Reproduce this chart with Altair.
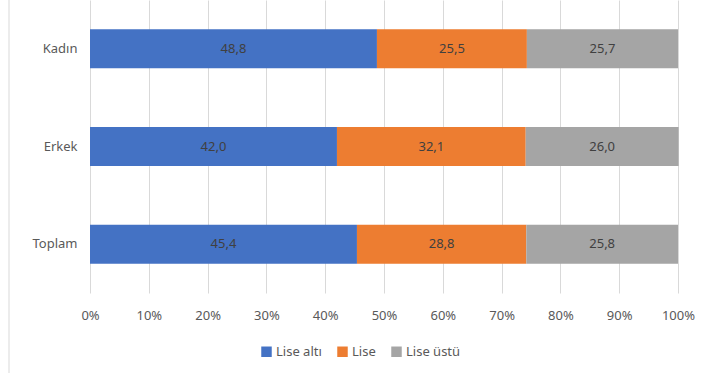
import altair as alt
import pandas as pd

categories = ["Kadın", "Erkek", "Toplam"]
series = ["Lise altı", "Lise", "Lise üstü"]
lise_alti = [48.8, 42.0, 45.4]
lise = [25.5, 32.1, 28.8]
lise_ustu = [25.7, 26.0, 25.8]
colors = ["#4472C4", "#ED7D31", "#A5A5A5"]
x_ticks = [0, 10, 20, 30, 40, 50, 60, 70, 80, 90, 100]

rows = []
for i, c in enumerate(categories):
    for j, (s, vals) in enumerate(zip(series, [lise_alti, lise, lise_ustu])):
        rows.append({"cat": c, "series": s, "order": j, "value": vals[i]})
df = pd.DataFrame(rows)

FONT = "Noto Sans"

base = alt.Chart(df).transform_stack(
    stack="value", groupby=["cat"], as_=["x0", "x1"],
    sort=[alt.SortField("order", order="ascending")]
).transform_calculate(
    mid="(datum.x0 + datum.x1) / 2",
    lbl="replace(format(datum.value, '.1f'), '.', ',')"
)

y_enc = alt.Y("cat:N", sort=categories, title=None,
              scale=alt.Scale(paddingInner=0.6, paddingOuter=0.3),
              axis=alt.Axis(domain=False, ticks=False, labelFont=FONT, labelFontSize=13,
                            labelColor="#595959", labelPadding=13, grid=False))

bars = base.mark_bar().encode(
    x=alt.X("x0:Q", title=None,
            scale=alt.Scale(domain=[0, 100], nice=False),
            axis=alt.Axis(values=x_ticks, labelExpr="datum.value + '%'", domain=False,
                          ticks=False, grid=True, gridColor="#D9D9D9", gridWidth=1,
                          labelFlush=False,
                          labelFont=FONT, labelFontSize=13, labelColor="#595959",
                          labelPadding=16)),
    x2="x1:Q",
    y=y_enc,
    color=alt.Color("series:N", sort=series,
                    scale=alt.Scale(domain=series, range=colors),
                    legend=alt.Legend(title=None, orient="none", direction="horizontal",
                                      legendX=170, legendY=345, symbolType="square",
                                      symbolSize=110, symbolStrokeWidth=0,
                                      labelFont=FONT, labelFontSize=13,
                                      labelColor="#595959", columnPadding=14,
                                      labelOffset=3)),
)

texts = base.mark_text(font=FONT, fontSize=13, color="#404040").encode(
    x="mid:Q",
    y=alt.Y("cat:N", sort=categories),
    text="lbl:N",
)

border = alt.Chart(pd.DataFrame({"a": [0]})).mark_rule(color="#D9D9D9", strokeWidth=1).encode(
    x=alt.value(-81), y=alt.value(-5), y2=alt.value(380)
)

chart = alt.layer(bars, texts, border).properties(
    width=588, height=293,
    padding={"left": 90, "top": 0, "right": 31, "bottom": 80},
    autosize=alt.AutoSizeParams(type="none"),
).configure_view(stroke=None)

chart.save("out.html", embed_options={"renderer": "svg", "actions": False})
